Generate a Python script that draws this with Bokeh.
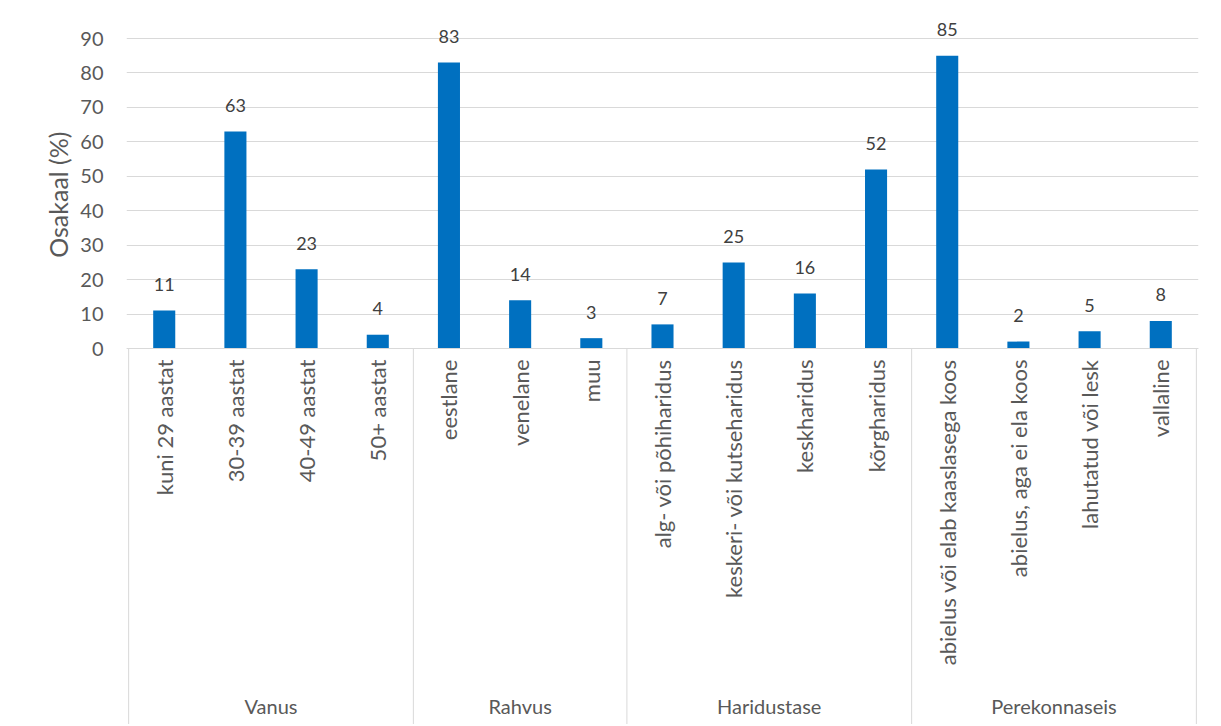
import math
from bokeh.plotting import figure
from bokeh.models import FactorRange, FixedTicker, ColumnDataSource, CategoricalAxis, Range1d, Title
from bokeh.core.properties import value
from bokeh.embed import file_html
from bokeh.resources import INLINE

groups = ["Vanus", "Rahvus", "Haridustase", "Perekonnaseis"]
vanus_cats = ["kuni 29 aastat", "30-39 aastat", "40-49 aastat", "50+ aastat"]
vanus_vals = [11, 63, 23, 4]
rahvus_cats = ["eestlane", "venelane", "muu"]
rahvus_vals = [83, 14, 3]
haridus_cats = ["alg- või põhiharidus", "keskeri- või kutseharidus", "keskharidus", "kõrgharidus"]
haridus_vals = [7, 25, 16, 52]
pere_cats = ["abielus või elab kaaslasega koos", "abielus, aga ei ela koos", "lahutatud või lesk", "vallaline"]
pere_vals = [85, 2, 5, 8]
y_ticks = [0, 10, 20, 30, 40, 50, 60, 70, 80, 90]
y_title = "Osakaal (%)"

cat_lists = [vanus_cats, rahvus_cats, haridus_cats, pere_cats]
val_lists = [vanus_vals, rahvus_vals, haridus_vals, pere_vals]

factors, vals = [], []
for g, cats, vs in zip(groups, cat_lists, val_lists):
    for c, v in zip(cats, vs):
        factors.append((g, c))
        vals.append(v)

# group boundaries (synthetic category coordinates) for the separator lines
bounds = [0]
for cats in cat_lists:
    bounds.append(bounds[-1] + len(cats))

FONT = "Lato"
GREY = "#595959"
LINE = "#d9d9d9"

# layout: the frame also covers the category-label area below the value 0
H = 724
FRAME_TOP = 4
ZERO_PX = 348
PX_PER_UNIT = 310 / 90.0
Y_TOP = (ZERO_PX - FRAME_TOP) / PX_PER_UNIT
Y_BOTTOM = -(H - ZERO_PX) / PX_PER_UNIT
GROUP_AXIS_LOC = -(717 - ZERO_PX) / PX_PER_UNIT
TITLE_OFFSET = 127

src = ColumnDataSource(dict(x=factors, v=vals, lbl=[str(v) for v in vals]))
sep = ColumnDataSource(dict(x=bounds, y0=[0] * len(bounds), y1=[Y_BOTTOM] * len(bounds)))

x_range = FactorRange(factors=factors, group_padding=0, factor_padding=0,
                      range_padding=0.004, range_padding_units="percent")

p = figure(x_range=x_range, y_range=Range1d(Y_BOTTOM, Y_TOP), width=1220, height=H,
           output_backend="svg", toolbar_location=None,
           min_border_left=126, min_border_right=22, min_border_top=FRAME_TOP, min_border_bottom=0)

p.segment(x0="x", y0="y0", x1="x", y1="y1", source=sep, line_color=LINE, line_width=1)
p.vbar(x="x", top="v", width=0.31, source=src, fill_color="#0070c0", line_color=None)
p.text(x="x", y="v", text="lbl", source=src, y_offset=-26, text_align="center",
       text_baseline="alphabetic", text_font=value(FONT), text_font_size="18px", text_color="#404040")

p.outline_line_color = None
p.xgrid.visible = False
p.ygrid.grid_line_color = LINE
p.ygrid.grid_line_width = 1

p.yaxis.ticker = FixedTicker(ticks=y_ticks)
p.yaxis.axis_line_color = None
p.yaxis.major_tick_line_color = None
p.yaxis.minor_tick_line_color = None
p.yaxis.major_label_standoff = 17
p.yaxis.major_label_text_font = FONT
p.yaxis.major_label_text_font_size = "20px"
p.yaxis.major_label_text_color = GREY

# value-axis title, placed beside the 0..90 part of the axis
p.add_layout(Title(text=y_title, align="right", offset=TITLE_OFFSET, standoff=10,
                   text_font=FONT, text_font_size="25px", text_font_style="normal",
                   text_color=GREY), "left")

# main category axis at value 0: category names (rotated)
xa = p.xaxis[0]
xa.fixed_location = 0
xa.axis_line_color = LINE
xa.major_tick_line_color = None
xa.minor_tick_line_color = None
xa.major_label_orientation = math.pi / 2
xa.major_label_standoff = 5
xa.major_label_text_font = FONT
xa.major_label_text_font_size = "22px"
xa.major_label_text_color = GREY
xa.group_text_font = FONT
xa.group_text_font_size = "20px"
xa.group_text_color = None
xa.separator_line_color = None

# group-name axis at the bottom of the label area
ga = CategoricalAxis(fixed_location=GROUP_AXIS_LOC)
ga.axis_line_color = None
ga.major_tick_line_color = None
ga.major_tick_out = 0
ga.minor_tick_line_color = None
ga.major_label_text_font_size = "1px"
ga.major_label_text_color = None
ga.major_label_standoff = 0
ga.group_text_font = FONT
ga.group_text_font_size = "20px"
ga.group_text_font_style = "normal"
ga.group_text_color = GREY
ga.separator_line_color = None
p.add_layout(ga, "above")

open("out.html", "w").write(file_html(p, INLINE))
